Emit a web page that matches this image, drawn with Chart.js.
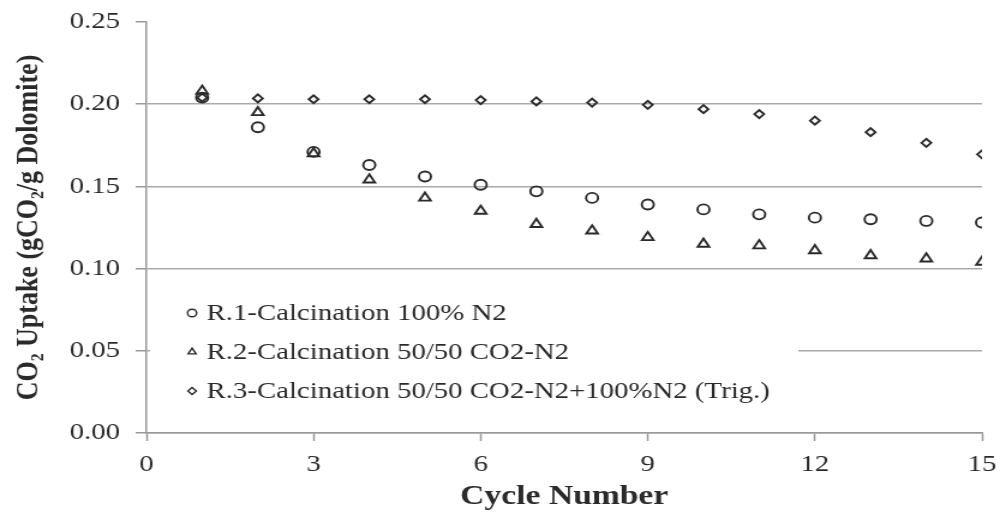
<!DOCTYPE html>
<html lang="en">
<head>
<meta charset="UTF-8">
<title>CO2 Uptake vs Cycle Number</title>
<script src="https://cdn.jsdelivr.net/npm/chart.js"></script>
<style>
  html, body { margin: 0; padding: 0; background: #fff; overflow: hidden; }
  /* the source figure is stretched sideways, so the canvas is too */
  #wrap { width: 833px; height: 512px; transform: scale(1.2005, 1); transform-origin: 0 0; }
</style>
</head>
<body>
<div id="wrap"><canvas id="uptakeChart" width="833" height="512"></canvas></div>
<script>
const cycles = [1, 2, 3, 4, 5, 6, 7, 8, 9, 10, 11, 12, 13, 14, 15];
const r1Values = [0.204, 0.186, 0.171, 0.163, 0.156, 0.151, 0.147, 0.143, 0.139, 0.136, 0.133, 0.131, 0.130, 0.129, 0.128];
const r2Values = [0.208, 0.195, 0.170, 0.154, 0.143, 0.135, 0.127, 0.123, 0.119, 0.115, 0.114, 0.111, 0.108, 0.106, 0.104];
const r3Values = [0.204, 0.2035, 0.203, 0.203, 0.203, 0.2025, 0.2017, 0.201, 0.1996, 0.197, 0.194, 0.190, 0.183, 0.1765, 0.1695];
const seriesLabels = [
    'R.1-Calcination 100% N2',
    'R.2-Calcination 50/50 CO2-N2',
    'R.3-Calcination 50/50 CO2-N2+100%N2 (Trig.)'
];
const xTicks = [0, 3, 6, 9, 12, 15];
const yTicks = [0, 0.05, 0.10, 0.15, 0.20, 0.25];

const ink = '#2a2a2a';
const serif = '"Liberation Serif", "Times New Roman", serif';

function toPoints(values) {
    return values.map((v, i) => ({ x: cycles[i], y: v }));
}

// white legend panel drawn over the grid, under the points
const legendBox = {
    id: 'legendBox',
    beforeDatasetsDraw(chart) {
        const { ctx, chartArea } = chart;
        const left = chartArea.left;
        ctx.save();
        ctx.fillStyle = '#fff';
        ctx.fillRect(left + 3, 292, 540, 118);
        ctx.font = '24px ' + serif;
        ctx.textBaseline = 'middle';
        chart.data.datasets.forEach((ds, i) => {
            const y = 313 + i * 39;
            ctx.fillStyle = '#fff';
            ctx.strokeStyle = ink;
            ctx.lineWidth = 1.4;
            Chart.helpers.drawPoint(ctx, { pointStyle: ds.pointStyle, radius: ds.pointStyle === 'rectRot' ? 3.5 : 3.8, borderWidth: 1.4, rotation: 0 }, left + 38, y);
            ctx.fillStyle = ink;
            ctx.fillText(ds.label, left + 50, y + 1);
        });
        ctx.restore();
    }
};

const ctx = document.getElementById('uptakeChart').getContext('2d');
const uptakeChart = new Chart(ctx, {
    type: 'scatter',
    data: {
        datasets: [
            { label: seriesLabels[0], data: toPoints(r1Values), pointStyle: 'circle', pointRadius: 5, borderWidth: 1.9 },
            { label: seriesLabels[1], data: toPoints(r2Values), pointStyle: 'triangle', pointRadius: 5.5, borderWidth: 1.9 },
            { label: seriesLabels[2], data: toPoints(r3Values), pointStyle: 'rectRot', pointRadius: 4, borderWidth: 1.9 }
        ].map(ds => Object.assign(ds, { borderColor: ink, backgroundColor: 'rgba(255,255,255,0)', pointHoverRadius: ds.pointRadius }))
    },
    options: {
        responsive: false,
        animation: false,
        layout: { padding: { top: 22, right: 15, left: 0, bottom: 0 } },
        plugins: {
            legend: { display: false },
            tooltip: { enabled: false }
        },
        scales: {
            x: {
                type: 'linear',
                min: 0,
                max: 15,
                afterBuildTicks: scale => { scale.ticks = xTicks.map(v => ({ value: v })); },
                afterFit: scale => { scale.height = 79; scale.paddingLeft = 0; scale.paddingRight = 0; },
                ticks: { color: ink, font: { family: serif, size: 24 }, padding: 9, maxRotation: 0 },
                grid: { drawOnChartArea: false, tickLength: 8, tickColor: '#999', tickWidth: 1.5 },
                border: { color: '#999', width: 1.5 },
                title: { display: true, text: 'Cycle Number', color: ink, font: { family: serif, size: 28, weight: 'bold', lineHeight: 1.1 }, padding: { top: 0, bottom: 0 } }
            },
            y: {
                min: 0,
                max: 0.25,
                afterBuildTicks: scale => { scale.ticks = yTicks.map(v => ({ value: v })); },
                afterFit: scale => { scale.width = 122; scale.paddingTop = 0; scale.paddingBottom = 0; },
                ticks: { color: ink, font: { family: serif, size: 24 }, padding: 13, callback: v => v.toFixed(2) },
                grid: {
                    color: c => (c.tick && Math.abs(c.tick.value - 0.25) < 1e-9) ? 'rgba(0,0,0,0)' : '#aaa',
                    lineWidth: 1.5,
                    tickLength: 9,
                    tickColor: '#999',
                    tickWidth: 1.5
                },
                border: { color: '#999', width: 1.5 },
                title: { display: true, text: 'CO₂ Uptake (gCO₂/g Dolomite)', color: ink, font: { family: serif, size: 26, weight: 'bold' }, padding: { top: 9, bottom: 9 } }
            }
        }
    },
    plugins: [legendBox]
});
</script>
</body>
</html>
